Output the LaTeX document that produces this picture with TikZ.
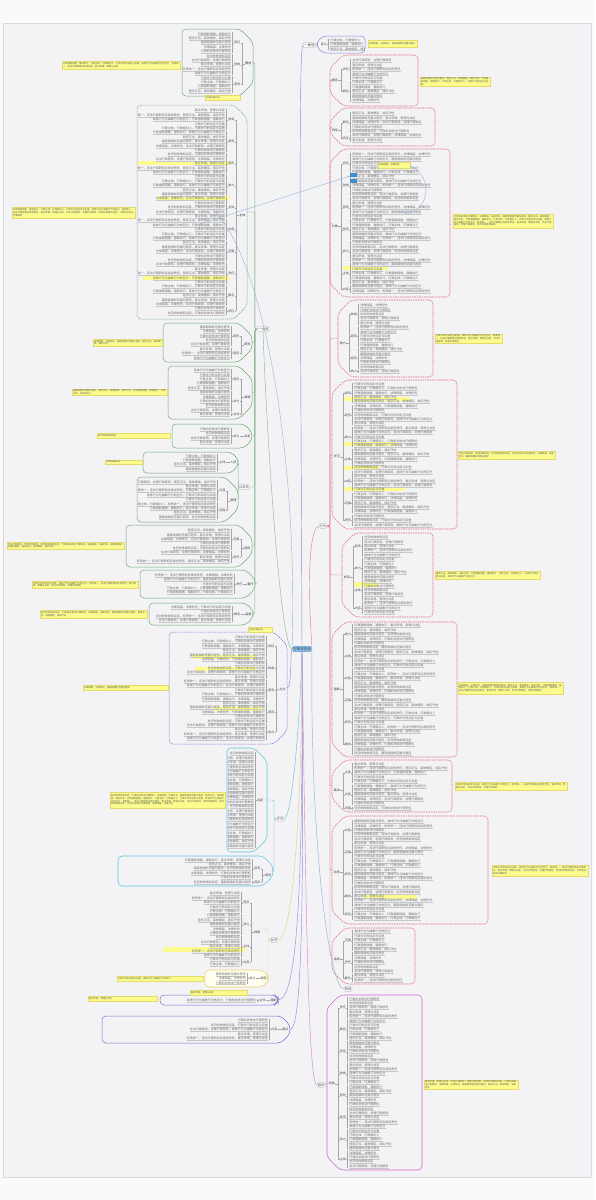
\documentclass[tikz,border=0pt]{standalone}
\usepackage{fontspec}
\newfontfamily\cjk{Noto Sans CJK SC}
\XeTeXlinebreaklocale "zh"
\XeTeXlinebreakskip = 0pt plus 0.3pt
\usetikzlibrary{arrows.meta}
\definecolor{pagebg}{HTML}{F3F3F6}
\definecolor{outerbg}{HTML}{FAFAFB}
\definecolor{framec}{HTML}{D9D9DE}
\definecolor{gC}{HTML}{6FA874}
\definecolor{rC}{HTML}{E06C78}
\definecolor{pC}{HTML}{7D6CCF}
\definecolor{p2C}{HTML}{9088DA}
\definecolor{cC}{HTML}{5EC3DE}
\definecolor{oC}{HTML}{EBCF72}
\definecolor{mC}{HTML}{CC66CC}
\definecolor{yC}{HTML}{FCFC8E}
\definecolor{yB}{HTML}{E4DB6A}
\definecolor{xC}{HTML}{8DB6D9}
\definecolor{cenF}{HTML}{8EC1EE}
\definecolor{cenD}{HTML}{5B9BD5}
\definecolor{bluN}{HTML}{3F8FD0}
\tikzset{
 tx/.style={font=\cjk\fontsize{3}{3.3}\selectfont, text=black!58, inner sep=0.25pt, outer sep=0pt},
 ctx/.style={font=\cjk\fontsize{2.3}{2.7}\selectfont, text=black!65, inner sep=0pt, outer sep=0pt},
 ulin/.style={draw=black!22, line width=0.12pt},
 brk/.style={draw=black!35, line width=0.18pt},
 sublb/.style={tx, text=black!70},
 mainlb/.style={tx, text=black!80},
 gbox/.style={draw=gC, line width=0.5pt, rounded corners=4pt},
 gboxd/.style={gbox, dash pattern=on 1.2pt off 0.8pt},
 rbox/.style={draw=rC, line width=0.55pt, rounded corners=4pt, dash pattern=on 1.6pt off 0.8pt},
 pbox/.style={draw=pC, line width=0.5pt, rounded corners=4pt},
 pboxd/.style={pbox, dash pattern=on 1.4pt off 0.8pt},
 ptbox/.style={draw=p2C, line width=0.5pt, rounded corners=4pt},
 cbox/.style={draw=cC, line width=0.55pt, rounded corners=4pt},
 obox/.style={draw=oC, fill=yellow!6, line width=0.55pt, rounded corners=4pt},
 mbox/.style={draw=mC, line width=0.55pt, rounded corners=4pt},
 nobox/.style={draw=none},
 calbox/.style={fill=yC, draw=yB, line width=0.25pt},
 hlfill/.style={fill=yC},
 hub/.style={font=\cjk\fontsize{3.2}{3.5}\selectfont, text=black!75, draw=black!35, fill=white, line width=0.2pt, rounded corners=1pt, inner sep=0.7pt},
 cennode/.style={font=\cjk\fontsize{3.5}{4}\selectfont, text=black!80, draw=cenD, fill=cenF, line width=0.3pt, rounded corners=1.5pt, inner sep=1pt},
 lng/.style={draw=gC!80, line width=0.45pt},
 lnr/.style={draw=rC!85, line width=0.45pt},
 lnp/.style={draw=pC!80, line width=0.45pt},
 lnpt/.style={draw=p2C, line width=0.45pt},
 lnc/.style={draw=cC, line width=0.45pt},
 lno/.style={draw=oC, line width=0.45pt},
 lnm/.style={draw=mC!80, line width=0.45pt},
 lnb/.style={draw=xC, line width=0.45pt},
 xlink/.style={draw=xC, line width=0.4pt},
}
\newcommand{\phr}[1]{\ifcase#1 行政机关依法行使职权\or 行政主体、行政相对人\or 合法行政原则、合理行政原则\or 程序正当、高效便民、诚实守信\or 权责统一，违法行使职权应承担责任\or 法律保留、法律优先\or 行政许可的设定与实施\or 处罚的种类和设定\or 行政强制措施、强制执行\or 复议申请、受理与决定\or 国家赔偿的范围与程序\or 具体行为与抽象行为的区分\else 行政行为\fi}
\newcommand{\shortphr}[1]{\ifcase#1 行政法律关系\or 依法行政\or 行政主体资格\or 信赖保护\or 比例原则\else 行政行为\fi}
\newcommand{\sublab}[1]{\ifcase#1 概念\or 特征\or 种类\or 原则\or 程序\or 效力\or 主体\or 内容\or 范围\or 责任\else 其他\fi}
% #1 name #2 x1 #3 y1 #4 x2 #5 y2 #6 style #7 side(0 left of parent,1 right) #8 label #9 seed
\newcommand{\mmbox}[9]{%
 \pgfmathsetmacro\mmbw{#4-#2}%
 \pgfmathsetmacro\mmbh{#5-#3}%
 \pgfmathsetmacro\mmslen{min(13,\mmbh/3)}%
 \pgfmathsetmacro\mmymid{(#3+#5)/2}%
 \pgfmathtruncatemacro\mmnarrow{\mmbw<62 ? 1 : 0}%
 \pgfmathsetmacro\mmlw{\mmnarrow==1 ? 13 : 22}%
 \pgfmathtruncatemacro\mmnl{max(1,floor((\mmbh-3)/4.4))}%
 \pgfmathsetmacro\mmyf{#3+(\mmbh-(\mmnl-1)*4.4)/2}%
 \pgfmathsetmacro\mmyl{\mmyf+(\mmnl-1)*4.4}%
 \ifnum#7=0\relax
  \path[#6] (#2,#3) -- ({#4-\mmslen},#3) -- (#4,{#3+\mmslen}) -- (#4,{#5-\mmslen}) -- ({#4-\mmslen},#5) -- (#2,#5) -- cycle;
  \coordinate (#1-tip) at (#4,\mmymid);
  \pgfmathsetmacro\mmxT{#4-\mmlw}\pgfmathsetmacro\mmxB{\mmxT+1.5}\pgfmathsetmacro\mmxS{\mmxT+3}\pgfmathsetmacro\mmxM{#4-11}\pgfmathsetmacro\mmxL{#4-1.5}%
  \def\mmta{east}\def\mmsa{west}\def\mmsf{east}\def\mmma{east}\def\mmmn{west}%
 \else
  \path[#6] (#4,#3) -- ({#2+\mmslen},#3) -- (#2,{#3+\mmslen}) -- (#2,{#5-\mmslen}) -- ({#2+\mmslen},#5) -- (#4,#5) -- cycle;
  \coordinate (#1-tip) at (#2,\mmymid);
  \pgfmathsetmacro\mmxT{#2+\mmlw}\pgfmathsetmacro\mmxB{\mmxT-1.5}\pgfmathsetmacro\mmxS{\mmxT-3}\pgfmathsetmacro\mmxM{#2+11}\pgfmathsetmacro\mmxL{#2+1.5}%
  \def\mmta{west}\def\mmsa{east}\def\mmsf{west}\def\mmma{west}\def\mmmn{east}%
 \fi
 \begin{scope}
  \clip (#2+1,#3) rectangle (#4-1,#5);
  \foreach \mmk in {1,...,\mmnl}{%
   \pgfmathsetmacro\mmyy{\mmyf+(\mmk-1)*4.4}%
   \pgfmathtruncatemacro\mmia{mod(\mmk*7+#9,12)}%
   \pgfmathtruncatemacro\mmib{mod(\mmk*5+#9+3,12)}%
   \pgfmathtruncatemacro\mmdbl{((\mmbw>100)&&(mod(\mmk+#9,3)>0)) ? 1 : 0}%
   \node[tx,anchor=\mmta] (#1-t\mmk) at (\mmxT,\mmyy) {\ifnum\mmdbl=1 \phr{\mmia}，\phr{\mmib}\else\phr{\mmia}\fi};
   \draw[ulin] (#1-t\mmk.south west) -- (#1-t\mmk.south east);
  }
 \end{scope}
 \ifnum\mmnarrow=1\relax
  \pgfmathsetmacro\mmymm{(\mmyf+\mmyl)/2}%
  \draw[brk] (\mmxB,\mmyf-1.5) -- (\mmxB,\mmyl+1.5);
  \node[mainlb,anchor=\mmsa] (#1-lab) at (\mmxS,\mmymm) {#8};
  \draw[brk] (\mmxB,\mmymm) -- (#1-lab.\mmsa);
 \else
  \pgfmathtruncatemacro\mmng{ceil(\mmnl/5)}%
  \pgfmathtruncatemacro\mmngm{\mmng-1}%
  \foreach \mmj in {0,...,\mmngm}{%
   \pgfmathtruncatemacro\mmfa{\mmj*5+1}%
   \pgfmathtruncatemacro\mmfb{min(\mmnl,\mmj*5+5)}%
   \pgfmathsetmacro\mmya{\mmyf+(\mmfa-1)*4.4}%
   \pgfmathsetmacro\mmyb{\mmyf+(\mmfb-1)*4.4}%
   \pgfmathsetmacro\mmym{(\mmya+\mmyb)/2}%
   \pgfmathtruncatemacro\mmsi{mod(\mmj+#9,10)}%
   \draw[brk] (\mmxB,\mmya-1.5) -- (\mmxB,\mmyb+1.5);
   \node[sublb,anchor=\mmsa] (#1-s\mmj) at (\mmxS,\mmym) {\sublab{\mmsi}};
   \draw[brk] (\mmxB,\mmym) -- (#1-s\mmj.\mmsa);
   \draw[brk] (#1-s\mmj.\mmsf) -- (\mmxM,\mmym);
  }
  \pgfmathsetmacro\mmymf{\mmyf+(min(\mmnl,5)-1)*2.2}%
  \pgfmathsetmacro\mmyml{(\mmyf+\mmngm*5*4.4+\mmyl)/2}%
  \pgfmathsetmacro\mmymn{(\mmymf+\mmyml)/2}%
  \draw[brk] (\mmxM,\mmymf) -- (\mmxM,\mmyml);
  \node[mainlb,anchor=\mmma] (#1-lab) at (\mmxL,\mmymn) {#8};
  \draw[brk] (\mmxM,\mmymn) -- (#1-lab.\mmmn);
 \fi
}
% callout: wrapped text inside a yellow note
\newcommand{\callout}[5]{%
 \path[calbox] (#2,#3) rectangle (#4,#5);
 \pgfmathsetmacro\mmcw{#4-#2-2}%
 \pgfmathtruncatemacro\mmcn{max(1,floor((#5-#3-0.5)/2.7))}%
 \pgfmathtruncatemacro\mmcap{floor(\mmcw/2.3)*\mmcn}%
 \pgfmathtruncatemacro\mmnph{max(1,floor(\mmcap*0.78/12.6))}%
 \pgfmathtruncatemacro\mmss{mod(#2+#3,5)}%
 \ifnum\mmcap<20\relax
  \node[ctx,anchor=west] (#1) at (#2+1,{(#3+#5)/2}) {\shortphr{\mmss}};
 \else
  \node[ctx,anchor=west,text width=\mmcw pt,align=left] (#1) at (#2+1,{(#3+#5)/2})
   {\foreach \mmq in {1,...,\mmnph}{\pgfmathtruncatemacro\mmqq{mod(\mmq*5+#2+#3,12)}\phr{\mmqq}\ifnum\mmq<\mmnph，\fi}};
 \fi}
\newcommand{\hlbar}[4]{\fill[hlfill] (#1,#2) rectangle (#3,#4);}
\begin{document}
\begin{tikzpicture}[x=1pt,y=-1pt]
\useasboundingbox (0,0) rectangle (595,1200);
\fill[outerbg] (0,0) rectangle (595,1200);
\fill[pagebg] (3,23) rectangle (591,1177);
\draw[framec, line width=0.5pt] (3,23) rectangle (591,1177);
% highlights
\hlbar{138}{161}{230}{165}\hlbar{158}{196}{230}{200}\hlbar{143}{276}{230}{280}
\hlbar{193}{655}{257}{659}\hlbar{195}{667}{257}{671}\hlbar{213}{707}{262}{711}
\hlbar{343}{266}{388}{270}
\hlbar{343}{397}{410}{401}\hlbar{343}{442}{398}{446}\hlbar{343}{466}{380}{470}\hlbar{343}{487}{405}{491}
\hlbar{353}{582}{378}{587}\hlbar{363}{894}{417}{899}\hlbar{163}{947}{245}{952}
% left boxes
\mmbox{A}{182}{29}{253}{96}{gbox}{0}{概述}{1}
\mmbox{B}{137}{105}{247}{319}{gboxd}{0}{主体}{2}
\mmbox{Cb}{163}{323}{252}{362}{gbox}{0}{原则}{3}
\mmbox{D}{168}{366}{252}{419}{gbox}{0}{渊源}{4}
\mmbox{E}{172}{424}{252}{448}{gbox}{0}{关系}{5}
\mmbox{F}{143}{452}{238}{473}{gbox}{0}{人员}{6}
\mmbox{G}{137}{477}{238}{522}{gbox}{0}{管理}{7}
\mmbox{H}{126}{525}{252}{567}{gbox}{0}{授权}{8}
\mmbox{I}{140}{570}{255}{598}{gbox}{0}{委托}{9}
\mmbox{J}{149}{603}{253}{625}{gbox}{0}{监督}{10}
\mmbox{K}{169}{632}{287}{744}{pboxd}{0}{立法}{11}
\mmbox{L}{227}{748}{267}{852}{cbox}{0}{设定}{12}
\mmbox{Ltwo}{118}{856}{273}{886}{cbox}{0}{程序}{13}
\mmbox{Mzero}{163}{890}{262}{968}{nobox}{0}{种类}{14}
\mmbox{M}{205}{970}{268}{987}{obox}{0}{适用}{15}
\mmbox{N}{160}{995}{278}{1005}{pbox}{0}{强制}{16}
\mmbox{O}{102}{1016}{290}{1043}{pbox}{0}{复议}{17}
% right boxes
\mmbox{Rone}{317}{36}{365}{53}{ptbox}{1}{定义}{18}
\mmbox{Rtwo}{330}{55}{418}{106}{rbox}{1}{概念}{19}
\mmbox{Rthree}{330}{108}{435}{146}{rbox}{1}{特征}{20}
\mmbox{Rfour}{330}{149}{450}{297}{rbox}{1}{分类}{21}
\mmbox{Rfive}{338}{300}{433}{377}{rbox}{1}{效力}{22}
\mmbox{Rsix}{332}{380}{457}{529}{rbox}{1}{许可}{23}
\mmbox{Rseven}{342}{533}{433}{617}{rbox}{1}{处罚}{24}
\mmbox{Reight}{332}{622}{457}{757}{rbox}{1}{强制}{25}
\mmbox{Rnine}{332}{760}{452}{812}{rbox}{1}{裁决}{26}
\mmbox{Rten}{332}{816}{488}{924}{rbox}{1}{合同}{27}
\mmbox{Releven}{332}{928}{415}{984}{rbox}{1}{指导}{28}
\mmbox{Rtwelve}{327}{995}{422}{1170}{mbox}{1}{机构}{29}
% blue marked topics
\fill[bluN] (350,173) rectangle (357,177);
\fill[bluN] (350,179) rectangle (357,183);
% callouts
\callout{Ya}{62}{61}{180}{69}
\callout{Yab}{205}{95}{240}{100}
\callout{Yb}{12}{207}{135}{218}
\callout{Yc}{93}{339}{162}{346}
\callout{Yd}{72}{389}{167}{395}
\callout{Ye}{97}{433}{170}{438}
\callout{Yf}{105}{460}{142}{464}
\callout{Yh}{7}{542}{124}{549}
\callout{Yi}{32}{581}{138}{588}
\callout{Yj}{40}{610}{147}{618}
\callout{Yk}{83}{685}{168}{690}
\callout{Ykb}{248}{627}{272}{632}
\callout{Yl}{110}{792}{225}{808}
\callout{Ym}{117}{976}{203}{981}
\callout{Yna}{190}{990}{247}{995}
\callout{Ynb}{88}{996}{157}{1001}
\callout{Yra}{368}{40}{417}{47}
\callout{Yrb}{420}{77}{490}{86}
\callout{Yrd}{453}{214}{553}{228}
\callout{Yrdb}{378}{162}{410}{168}
\callout{Yre}{435}{334}{502}{343}
\callout{Yrf}{458}{451}{555}{459}
\callout{Yrg}{435}{571}{540}{579}
\callout{Yrh}{458}{682}{563}{694}
\callout{Yri}{455}{782}{567}{790}
\callout{Yrj}{492}{865}{588}{876}
\callout{Yrl}{424}{1080}{518}{1089}
% hubs
\node[hub] (G0) at (263,329) {一.总则};
\node[hub] (FG) at (244,487) {公务员};
\node[hub] (Ron) at (309,45) {一.概述};
\node[hub] (Rn) at (323,526) {行为};
\node[hub] (Cy) at (280,819) {许可};
\node[hub] (Or) at (274,940) {处罚};
\node[hub] (Fx) at (348,989) {附则};
\node[hub] (Pk) at (321,1085) {组织};
\node[cennode] (C) at (302,649) {行政法总论};
% connectors
\draw[lng] (C.west) .. controls (280,649) and (266,420) .. (G0.south);
\foreach \X in {A,B,Cb,D,E,H,I,J}{\draw[lng, rounded corners=2pt] (G0.west) -- ++(-2,0) |- (\X-tip);}
\draw[lng, rounded corners=2pt] (G0.west) -- ++(-2,0) |- (FG.east);
\draw[lng] (FG.west) -- (F-tip);
\draw[lng] (FG.west) -- (G-tip);
\draw[lnp] (C.west) .. controls (290,652) and (292,688) .. (K-tip);
\draw[lnc] (C.south) .. controls (300,720) and (292,819) .. (Cy.east);
\draw[lnc, rounded corners=2pt] (Cy.west) -- ++(-2,0) |- (L-tip);
\draw[lnc, rounded corners=2pt] (Cy.west) -- ++(-2,0) |- (Ltwo-tip);
\draw[lno] (C.south) .. controls (302,820) and (292,940) .. (Or.east);
\draw[lno, rounded corners=2pt] (Or.west) -- ++(-2,0) |- (Mzero-tip);
\draw[lno, rounded corners=2pt] (Or.west) -- ++(-2,0) |- (M-tip);
\draw[lnp] (C.south) .. controls (303,880) and (298,1000) .. (N-tip);
\draw[lnp] (C.south) .. controls (304,900) and (302,1030) .. (O-tip);
\draw[lnpt] (C.north) .. controls (301,350) and (298,45) .. (Ron.west);
\draw[lnpt] (Ron.east) -- (Rone-tip);
\draw[lnr] (C.north east) .. controls (306,560) and (312,526) .. (Rn.west);
\foreach \X in {Rtwo,Rthree,Rfour,Rfive,Rsix,Rseven,Reight,Rnine,Rten,Releven}{\draw[lnr, rounded corners=2pt] (Rn.east) -- ++(3,0) |- (\X-tip);}
\draw[lnb] (C.south east) .. controls (310,850) and (330,989) .. (Fx.west);
\draw[lnm] (C.south) .. controls (306,900) and (308,1085) .. (Pk.west);
\draw[lnm] (Pk.east) -- (Rtwelve-tip);
% cross links
\coordinate (xa) at (200,224);
\coordinate (xb) at (350,176);
\draw[xlink,-{Stealth[length=2.5pt,width=2pt]}] (xa) -- (xb);
\coordinate (xc) at (410,166);
\coordinate (xd) at (404,213);
\draw[xlink,-{Stealth[length=2.5pt,width=2pt]}] (xc) .. controls (430,172) and (434,210) .. (xd);
\coordinate (xe) at (213,210);
\draw[xlink] (xe) .. controls (262,255) and (298,450) .. (C.north west);
\end{tikzpicture}
\end{document}
